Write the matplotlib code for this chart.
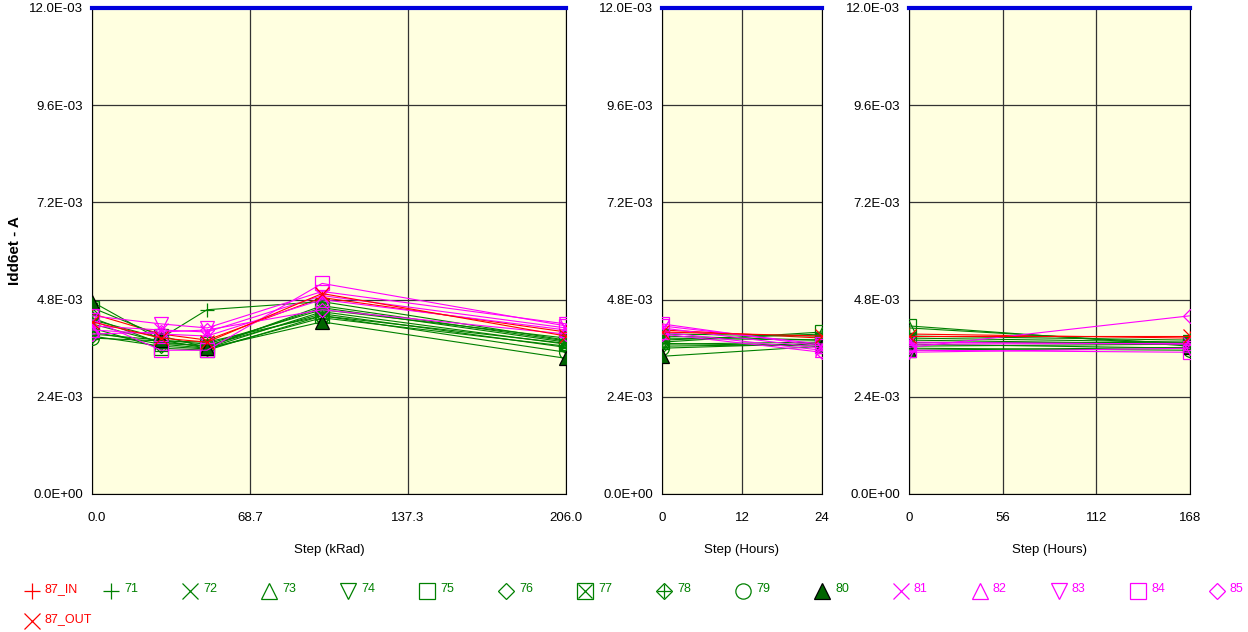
import numpy as np
import matplotlib
matplotlib.use("Agg")
import matplotlib.pyplot as plt
import matplotlib.transforms as mtrans
from matplotlib.lines import Line2D

plt.rcParams['font.family'] = ['Liberation Sans', 'DejaVu Sans']

# serie: nazwy, kolory, markery
names = ["87_IN", "71", "72", "73", "74", "75", "76", "77", "78", "79", "80",
         "81", "82", "83", "84", "85", "87_OUT"]
colors = ["red"] + ["green"] * 10 + ["magenta"] * 5 + ["red"]
markers = ["+", "+", "x", "^", "v", "s", "D", "s", "D", "o", "^",
           "x", "^", "v", "s", "D", "x"]
overlay = {"77": "x", "78": "+"}   # znacznik wewnątrz kwadratu / rombu
filled = {"80"}

# kroki na osi X
steps_krad = [0, 30, 50, 100, 206]
steps_h24 = [0, 24]
steps_h168 = [0, 168]

# Idd6et [mA] dla każdej serii
idd_krad = [
    [4.45, 3.95, 3.80, 4.85, 4.00],
    [4.30, 3.85, 4.55, 4.75, 3.80],
    [4.20, 3.75, 3.65, 4.60, 3.75],
    [4.00, 3.70, 3.60, 4.50, 3.70],
    [3.95, 3.80, 3.70, 4.55, 3.85],
    [4.10, 3.60, 3.55, 4.40, 3.72],
    [3.90, 3.65, 3.58, 4.35, 3.65],
    [4.60, 3.90, 3.62, 4.65, 3.78],
    [4.35, 3.72, 3.66, 4.45, 3.62],
    [3.85, 3.78, 3.75, 4.40, 3.50],
    [4.75, 3.80, 3.60, 4.25, 3.35],
    [4.15, 4.05, 4.00, 4.90, 4.10],
    [4.05, 3.95, 3.90, 4.80, 4.05],
    [4.40, 4.20, 4.10, 5.00, 4.20],
    [4.30, 3.55, 3.55, 5.20, 4.15],
    [3.95, 4.00, 4.05, 4.55, 3.95],
    [4.25, 3.85, 3.75, 4.95, 3.90],
]
idd_h24 = [
    [4.05, 3.85], [3.95, 3.90], [3.85, 3.80], [3.80, 3.95], [3.70, 3.75],
    [3.75, 4.00], [3.65, 3.70], [3.90, 3.80], [3.72, 3.65], [3.60, 3.72],
    [3.40, 3.65], [4.10, 3.60], [4.00, 3.55], [4.15, 3.70], [4.20, 3.65],
    [3.95, 3.50], [4.00, 3.90],
]
idd_h168 = [
    [3.95, 3.85], [3.90, 3.80], [3.85, 3.75], [4.10, 3.70], [3.75, 3.75],
    [4.15, 3.65], [3.70, 3.60], [3.80, 3.70], [3.65, 3.70], [3.60, 3.55],
    [3.55, 3.62], [3.75, 3.70], [3.70, 3.72], [3.50, 3.60], [3.55, 3.50],
    [3.62, 4.40], [3.90, 3.90],
]

limit = 12.0e-3
yticks = [0.0, 2.4e-3, 4.8e-3, 7.2e-3, 9.6e-3, 12.0e-3]
ytick_labels = ["0.0E+00", "2.4E-03", "4.8E-03", "7.2E-03", "9.6E-03", "12.0E-03"]

panels = [
    (steps_krad, idd_krad, [0, 206], [0, 68.7, 137.3, 206.0],
     ["0.0", "68.7", "137.3", "206.0"], "Step (kRad)"),
    (steps_h24, idd_h24, [0, 24], [0, 12, 24], ["0", "12", "24"], "Step (Hours)"),
    (steps_h168, idd_h168, [0, 168], [0, 56, 112, 168],
     ["0", "56", "112", "168"], "Step (Hours)"),
]
W, H = 1248, 632
boxes = [(92, 474), (662, 160), (909, 281)]


def marker_style(name, col, mk, ms):
    return dict(marker=mk, ms=ms * (0.75 if mk == "D" else 1.0),
                mfc=("darkgreen" if name in filled else "none"),
                mec=("black" if name in filled else col), mew=0.9)


fig = plt.figure(figsize=(W / 100, H / 100), dpi=100)

for (xs, data, xlim, xt, xtl, xlabel), (x0, w) in zip(panels, boxes):
    ax = fig.add_axes([x0 / W, (H - 494) / H, w / W, 486 / H])
    ax.set_facecolor("#ffffe0")
    for name, col, mk, vals in zip(names, colors, markers, data):
        y = np.array(vals) * 1e-3
        ax.plot(xs, y, color=col, lw=0.8, zorder=3, **marker_style(name, col, mk, 10))
        if name in overlay:
            ax.plot(xs, y, ls="none", marker=overlay[name], ms=9,
                    color=col, mew=0.9, zorder=3)
    ax.axhline(limit, color="#0000dd", lw=3, zorder=4, clip_on=False)
    ax.set_xlim(xlim)
    ax.set_ylim(0, limit)
    ax.set_xticks(xt)
    ax.set_xticklabels(xtl)
    ax.set_yticks(yticks)
    ax.set_yticklabels(ytick_labels)
    ax.grid(True, color="#333333", lw=0.9)
    ax.set_axisbelow(True)
    ax.tick_params(length=0, labelsize=9.5)
    ax.tick_params(axis="y", pad=6.5)
    ax.tick_params(axis="x", pad=13)
    ax.set_xlabel(xlabel, fontsize=9.5, labelpad=14)
    for s in ax.spines.values():
        s.set_color("black")
    if x0 == 92:
        ax.set_ylabel("Idd6et - A", fontsize=11, fontweight="bold")
        ax.yaxis.set_label_coords(-0.148, 0.5)
        # pierwsza etykieta lekko w prawo
        lab = ax.get_xticklabels()[0]
        lab.set_transform(lab.get_transform() +
                          mtrans.ScaledTranslation(5 / 100, 0, fig.dpi_scale_trans))

# legenda rysowana ręcznie: 16 pozycji w rzędzie, 87_OUT w drugim
for i, (name, col, mk) in enumerate(zip(names, colors, markers)):
    if name == "87_OUT":
        xm, ym = 32, 621
    elif i == 0:
        xm, ym = 32, 591
    else:
        xm, ym = 111 + 79 * (i - 1), 591
    fx, fy = xm / W, 1 - ym / H
    fig.add_artist(Line2D([fx], [fy], ls="none", color=col,
                          **marker_style(name, col, mk, 11)))
    if name in overlay:
        fig.add_artist(Line2D([fx], [fy], ls="none", marker=overlay[name],
                              ms=10, color=col, mew=0.9))
    fig.text(fx + 13 / W, fy + 2 / H, name, color=col, fontsize=9,
             ha="left", va="center")

fig.savefig("out.png", dpi=100)
